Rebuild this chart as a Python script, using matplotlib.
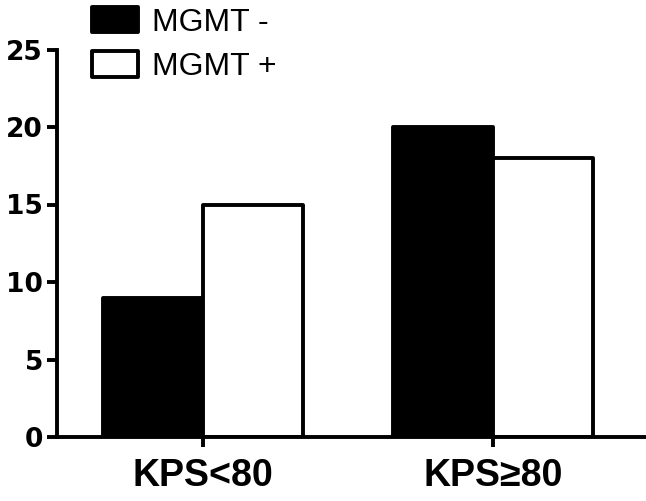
import numpy as np
import matplotlib
matplotlib.use("Agg")
import matplotlib.pyplot as plt

# data
groups = ["KPS<80", "KPS\u226580"]
mgmt_neg = [9, 20]
mgmt_pos = [15, 18]
series_names = ["MGMT -", "MGMT +"]

fig = plt.figure(figsize=(6.46, 5.01), dpi=100)
ax = fig.add_axes([57 / 646, 1 - 437 / 501, 1 - 57 / 646, (437 - 49.5) / 501])

x = np.arange(len(groups))
w = 0.345
lw = 2.8
ax.bar(x - w / 2, mgmt_neg, w, color="black", edgecolor="black", linewidth=lw,
       label=series_names[0], joinstyle="round")
ax.bar(x + w / 2, mgmt_pos, w, color="white", edgecolor="black", linewidth=lw,
       label=series_names[1], joinstyle="round")

ax.set_xlim(-0.503, 1.528)
ax.set_ylim(0, 25)
ax.set_yticks([0, 5, 10, 15, 20, 25])
ax.set_xticks(x)
ax.set_xticklabels(groups, fontfamily=["Liberation Sans", "DejaVu Sans"],
                   fontweight="bold", fontsize=27)
for t in ax.get_yticklabels():
    t.set_fontfamily("DejaVu Sans")
    t.set_fontweight("bold")
    t.set_fontsize(19)

for s in ["top", "right"]:
    ax.spines[s].set_visible(False)
for s in ["left", "bottom"]:
    ax.spines[s].set_linewidth(lw)
    ax.spines[s].set_capstyle("projecting")
ax.tick_params(axis="y", length=7, width=lw, pad=3)
ax.tick_params(axis="x", length=7, width=lw, pad=8)

leg = ax.legend(loc="upper left", bbox_to_anchor=(92 / 646, 1 - 7 / 501),
                bbox_transform=fig.transFigure, frameon=False, borderpad=0,
                borderaxespad=0, handlelength=1.44, handleheight=0.85,
                handletextpad=0.45, labelspacing=0.42,
                prop={"family": "Liberation Sans", "size": 23})
for p in leg.get_patches():
    p.set_linewidth(lw)
    p.set_joinstyle("round")

fig.savefig("out.png", dpi=100)
